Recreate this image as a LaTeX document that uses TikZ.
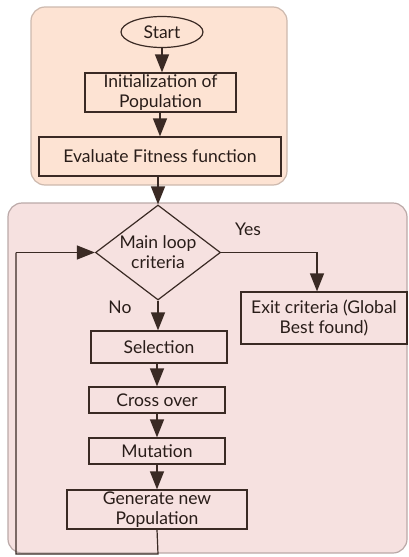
\documentclass[tikz,border=0pt]{standalone}
\usepackage{fontspec}
\setmainfont{Lato}
\usetikzlibrary{shapes.geometric,arrows.meta}
\definecolor{linec}{HTML}{3A2A24}
\definecolor{peach}{HTML}{FDE3D3}
\definecolor{peachb}{HTML}{CDB9AE}
\definecolor{pinkf}{HTML}{F6E1E0}
\definecolor{pinkb}{HTML}{BBA9A8}
\tikzset{
  x=1pt,y=-1pt,
  panel/.style={rounded corners=14pt,line width=1.2pt},
  stepbox/.style={draw=linec,line width=1.2pt,inner sep=0pt,align=center,font=\fontsize{17.5}{20}\selectfont,text=linec!70!black},
  conn/.style={draw=linec,line width=1.2pt,-{Triangle[length=18pt,width=14pt]}},
  plain/.style={draw=linec,line width=1.2pt},
  lbl/.style={font=\fontsize{17.5}{20}\selectfont,text=linec!70!black}
}
\begin{document}
\begin{tikzpicture}
\path[fill=white] (0,0) rectangle (409,557);
\useasboundingbox (0,0) rectangle (409,557);
\draw[panel,fill=peach,draw=peachb] (31,7) rectangle (287,185);
\draw[panel,fill=pinkf,draw=pinkb] (8,203) rectangle (407,553);

\node[stepbox,ellipse,minimum width=82pt,minimum height=31pt] (start) at (162,32) {Start};
\node[stepbox,rectangle,minimum width=151pt,minimum height=39pt] (init) at (160.5,92.5) {Initialization of\\Population};
\node[stepbox,rectangle,minimum width=242pt,minimum height=39pt] (eval) at (160,156.5) {Evaluate Fitness function};
\node[stepbox,diamond,minimum width=125pt,minimum height=95pt,aspect=1.3] (main) at (158,252.5) {Main loop\\criteria};
\node[stepbox,rectangle,minimum width=166pt,minimum height=52pt] (exit) at (324,318) {Exit criteria (Global\\Best found)};
\node[stepbox,rectangle,minimum width=136pt,minimum height=32pt] (sel) at (159,347) {Selection};
\node[stepbox,rectangle,minimum width=136pt,minimum height=26pt] (cross) at (157,400) {Cross over};
\node[stepbox,rectangle,minimum width=136pt,minimum height=26pt] (mut) at (157,451) {Mutation};
\node[stepbox,rectangle,minimum width=180pt,minimum height=39pt] (gen) at (157,509.5) {Generate new\\Population};

\node[lbl] (yes) at (248,229) {Yes};
\node[lbl] (no) at (120,307) {No};

\coordinate (c1) at (158,554);
\coordinate (c2) at (16,554);
\coordinate (c3) at (16,252.5);

\draw[conn] (start.south) -- (init.north -| start.south);
\draw[conn] (init.south -| eval.north) -- (eval.north);
\draw[conn] (eval.south -| main.north) -- (main.north);
\draw[conn] (main.east) -| (exit.north -| 317,0);
\draw[conn] (main.south) -- (sel.north -| main.south);
\draw[conn] (sel.south -| cross.north) -- (cross.north);
\draw[conn] (cross.south) -- (mut.north);
\draw[conn] (mut.south) -- (gen.north);
\draw[plain] (gen.south) -- (c1) -- (c2) -- (c3);
\draw[conn] (c3) -- (main.west);
\end{tikzpicture}
\end{document}
